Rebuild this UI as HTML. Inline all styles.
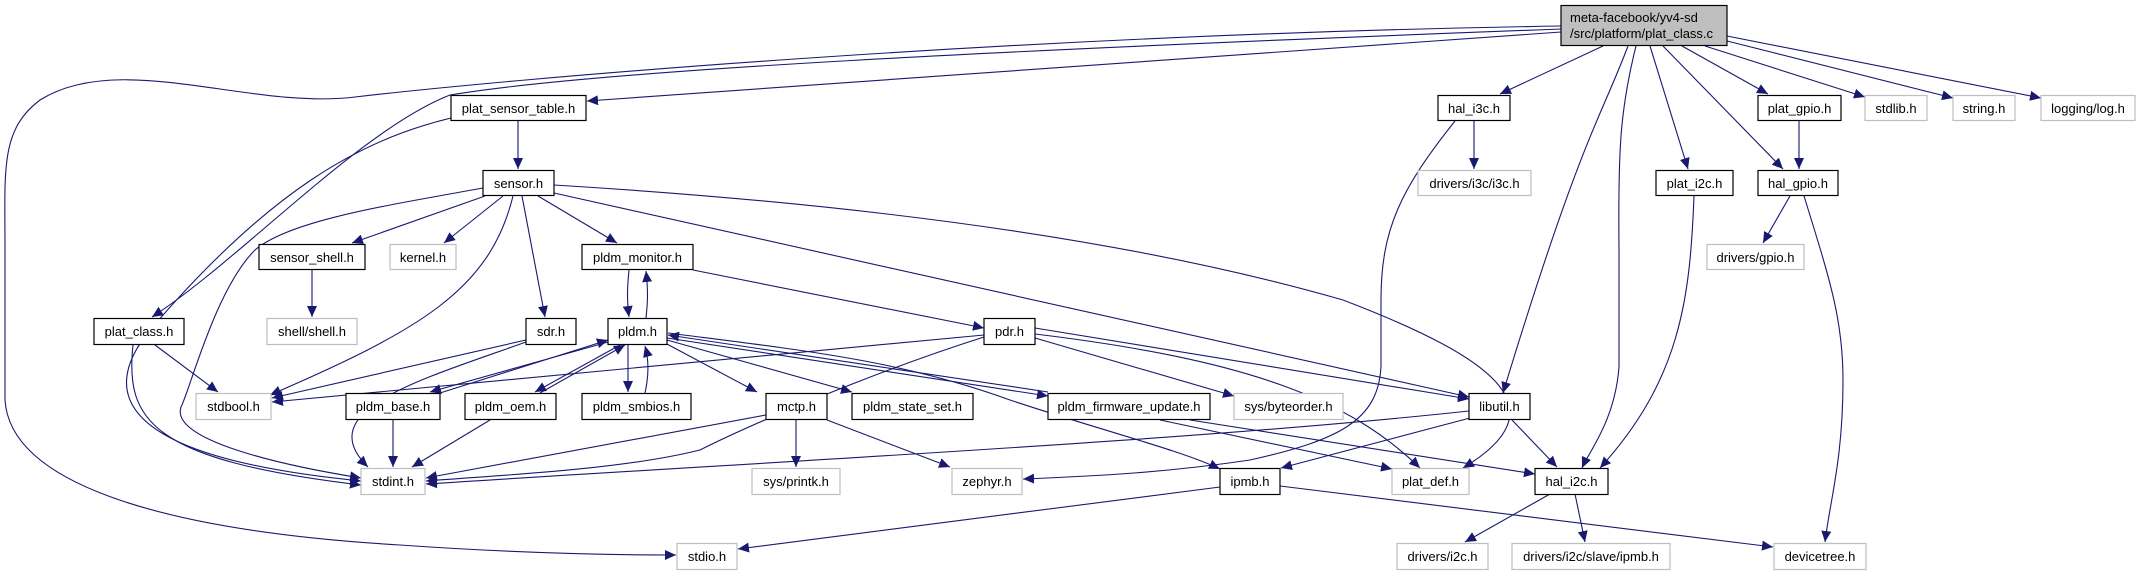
<!DOCTYPE html>
<html><head><meta charset="utf-8"><style>
html,body{margin:0;padding:0;background:#fff;}
svg{display:block;}
text{font-family:"Liberation Sans",sans-serif;font-size:13px;fill:#000;}
.e{fill:none;stroke:#191970;stroke-width:1.1;marker-end:url(#a);}
.n rect{fill:#fff;stroke:#000;stroke-width:1.2;}
.g rect{fill:#fff;stroke:#bfbfbf;stroke-width:1.2;}
</style></head><body>
<svg width="2145" height="575" viewBox="0 0 2145 575" xmlns="http://www.w3.org/2000/svg">
<defs><marker id="a" markerUnits="userSpaceOnUse" markerWidth="12" markerHeight="10" refX="11" refY="5" orient="auto"><path d="M0,0 L11,5 L0,10 z" fill="#191970"/></marker></defs>
<!-- edges -->
<path class="e" d="M1561,32 L587,101"/>
<path class="e" d="M1561,29 C1000,50 600,70 450,95 C360,130 240,260 152,317"/>
<path class="e" d="M1561,26 C1000,35 500,80 355,97 C250,110 120,50 40,100 C0,130 5,170 5,250 L5,400 C10,480 150,530 400,545 C500,552 600,555 676,555"/>
<path class="e" d="M1603,46 L1500,94"/>
<path class="e" d="M1628,46 C1600,120 1580,140 1503,393"/>
<path class="e" d="M1636,46 C1620,110 1618,150 1619,250 L1619,367 C1615,420 1590,450 1582,468"/>
<path class="e" d="M1650,46 L1688,169"/>
<path class="e" d="M1663,46 L1783,169"/>
<path class="e" d="M1682,46 L1768,94"/>
<path class="e" d="M1705,46 L1865,97"/>
<path class="e" d="M1727,41 L1953,98"/>
<path class="e" d="M1727,36 L2041,98"/>
<path class="e" d="M518,121 L518,169"/>
<path class="e" d="M451,118 C360,140 270,190 150,330 C60,440 250,470 361,481"/>
<path class="e" d="M485,196 L352,243"/>
<path class="e" d="M503,196 L444,243"/>
<path class="e" d="M538,196 L617,243"/>
<path class="e" d="M522,196 L545,317"/>
<path class="e" d="M513,196 C490,290 420,330 270,395"/>
<path class="e" d="M483,188 C390,205 290,220 255,250 C215,290 190,390 181,407 C170,440 280,465 361,478"/>
<path class="e" d="M554,193 L1469,397"/>
<path class="e" d="M554,185 C800,200 1100,230 1343,300 C1500,360 1560,410 1463,468"/>
<path class="e" d="M312,270 L312,317"/>
<path class="e" d="M629,270 C627,290 627,300 629,317"/>
<path class="e" d="M646,318 C648,300 648,290 646,271"/>
<path class="e" d="M693,270 L984,328"/>
<path class="e" d="M155,345 L218,392"/>
<path class="e" d="M133,345 C125,420 150,460 361,485"/>
<path class="e" d="M526,340 L272,398"/>
<path class="e" d="M526,342 C420,380 310,410 368,467"/>
<path class="e" d="M608,342 L430,392"/>
<path class="e" d="M440,393 L608,340"/>
<path class="e" d="M620,345 L535,392"/>
<path class="e" d="M540,393 L625,345"/>
<path class="e" d="M628,345 L628,392"/>
<path class="e" d="M645,393 C649,375 649,360 645,346"/>
<path class="e" d="M665,343 L757,392"/>
<path class="e" d="M667,340 L852,392"/>
<path class="e" d="M667,338 L1048,396"/>
<path class="e" d="M1048,392 L668,335"/>
<path class="e" d="M668,333 C800,350 900,360 1010,400 C1100,430 1180,450 1220,469"/>
<path class="e" d="M393,420 L393,467"/>
<path class="e" d="M490,420 L412,467"/>
<path class="e" d="M766,415 L426,478"/>
<path class="e" d="M796,420 L796,467"/>
<path class="e" d="M827,420 L950,467"/>
<path class="e" d="M984,335 L272,402"/>
<path class="e" d="M984,337 C880,370 760,420 700,450 C620,470 500,475 426,481"/>
<path class="e" d="M1035,338 L1234,396"/>
<path class="e" d="M1035,328 L1469,399"/>
<path class="e" d="M1035,334 C1250,360 1350,400 1420,468"/>
<path class="e" d="M1160,420 L1392,469"/>
<path class="e" d="M1190,420 L1535,474"/>
<path class="e" d="M1469,411 C1200,440 800,460 426,484"/>
<path class="e" d="M1470,418 L1281,468"/>
<path class="e" d="M1512,420 L1557,467"/>
<path class="e" d="M1474,121 L1474,169"/>
<path class="e" d="M1455,121 C1400,190 1381,230 1381,300 L1381,367 C1378,420 1340,440 1250,460 C1170,472 1100,476 1023,479"/>
<path class="e" d="M1694,196 C1690,300 1680,380 1600,468"/>
<path class="e" d="M1799,121 L1799,169"/>
<path class="e" d="M1790,196 L1763,243"/>
<path class="e" d="M1804,196 C1830,280 1843,320 1843,380 C1843,460 1830,500 1825,542"/>
<path class="e" d="M1550,494 L1465,542"/>
<path class="e" d="M1575,494 L1585,542"/>
<path class="e" d="M1220,487 L738,549"/>
<path class="e" d="M1280,486 L1773,547"/>
<!-- nodes -->
<g><rect x="1561" y="5.5" width="166" height="40" fill="#bfbfbf" stroke="#000" stroke-width="1.2"/><text x="1570" y="22">meta-facebook/yv4-sd</text><text x="1570" y="38">/src/platform/plat_class.c</text></g>
<g class="n"><rect x="451" y="95.5" width="135" height="25"/><text x="518.5" y="113" text-anchor="middle">plat_sensor_table.h</text></g>
<g class="n"><rect x="1438" y="95.5" width="72" height="25"/><text x="1474" y="113" text-anchor="middle">hal_i3c.h</text></g>
<g class="n"><rect x="1758" y="95.5" width="83" height="25"/><text x="1799.5" y="113" text-anchor="middle">plat_gpio.h</text></g>
<g class="g"><rect x="1865" y="95.5" width="62" height="25"/><text x="1896" y="113" text-anchor="middle">stdlib.h</text></g>
<g class="g"><rect x="1953" y="95.5" width="62" height="25"/><text x="1984" y="113" text-anchor="middle">string.h</text></g>
<g class="g"><rect x="2041" y="95.5" width="94" height="25"/><text x="2088" y="113" text-anchor="middle">logging/log.h</text></g>
<g class="n"><rect x="483" y="170.5" width="71" height="25"/><text x="518.5" y="188" text-anchor="middle">sensor.h</text></g>
<g class="g"><rect x="1418" y="170.5" width="113" height="25"/><text x="1474.5" y="188" text-anchor="middle">drivers/i3c/i3c.h</text></g>
<g class="n"><rect x="1656" y="170.5" width="77" height="25"/><text x="1694.5" y="188" text-anchor="middle">plat_i2c.h</text></g>
<g class="n"><rect x="1758" y="170.5" width="80" height="25"/><text x="1798" y="188" text-anchor="middle">hal_gpio.h</text></g>
<g class="n"><rect x="259" y="244.5" width="106" height="25"/><text x="312" y="262" text-anchor="middle">sensor_shell.h</text></g>
<g class="g"><rect x="390" y="244.5" width="66" height="25"/><text x="423" y="262" text-anchor="middle">kernel.h</text></g>
<g class="n"><rect x="582" y="244.5" width="111" height="25"/><text x="637.5" y="262" text-anchor="middle">pldm_monitor.h</text></g>
<g class="g"><rect x="1707" y="244.5" width="97" height="25"/><text x="1755.5" y="262" text-anchor="middle">drivers/gpio.h</text></g>
<g class="n"><rect x="94" y="318.5" width="90" height="26"/><text x="139" y="336" text-anchor="middle">plat_class.h</text></g>
<g class="g"><rect x="267" y="318.5" width="90" height="26"/><text x="312" y="336" text-anchor="middle">shell/shell.h</text></g>
<g class="n"><rect x="526" y="318.5" width="50" height="26"/><text x="551" y="336" text-anchor="middle">sdr.h</text></g>
<g class="n"><rect x="608" y="318.5" width="59" height="26"/><text x="637.5" y="336" text-anchor="middle">pldm.h</text></g>
<g class="n"><rect x="984" y="318.5" width="51" height="26"/><text x="1009.5" y="336" text-anchor="middle">pdr.h</text></g>
<g class="g"><rect x="196" y="393.5" width="75" height="26"/><text x="233.5" y="411" text-anchor="middle">stdbool.h</text></g>
<g class="n"><rect x="346" y="393.5" width="94" height="26"/><text x="393" y="411" text-anchor="middle">pldm_base.h</text></g>
<g class="n"><rect x="465" y="393.5" width="91" height="26"/><text x="510.5" y="411" text-anchor="middle">pldm_oem.h</text></g>
<g class="n"><rect x="582" y="393.5" width="109" height="26"/><text x="636.5" y="411" text-anchor="middle">pldm_smbios.h</text></g>
<g class="n"><rect x="766" y="393.5" width="61" height="26"/><text x="796.5" y="411" text-anchor="middle">mctp.h</text></g>
<g class="n"><rect x="852" y="393.5" width="121" height="26"/><text x="912.5" y="411" text-anchor="middle">pldm_state_set.h</text></g>
<g class="n"><rect x="1048" y="393.5" width="162" height="26"/><text x="1129" y="411" text-anchor="middle">pldm_firmware_update.h</text></g>
<g class="g"><rect x="1234" y="393.5" width="109" height="26"/><text x="1288.5" y="411" text-anchor="middle">sys/byteorder.h</text></g>
<g class="n"><rect x="1469" y="393.5" width="61" height="26"/><text x="1499.5" y="411" text-anchor="middle">libutil.h</text></g>
<g class="g"><rect x="361" y="468.5" width="64" height="26"/><text x="393" y="486" text-anchor="middle">stdint.h</text></g>
<g class="g"><rect x="752" y="468.5" width="88" height="26"/><text x="796" y="486" text-anchor="middle">sys/printk.h</text></g>
<g class="g"><rect x="952" y="468.5" width="70" height="26"/><text x="987" y="486" text-anchor="middle">zephyr.h</text></g>
<g class="n"><rect x="1220" y="468.5" width="60" height="26"/><text x="1250" y="486" text-anchor="middle">ipmb.h</text></g>
<g class="g"><rect x="1392" y="468.5" width="77" height="26"/><text x="1430.5" y="486" text-anchor="middle">plat_def.h</text></g>
<g class="n"><rect x="1535" y="468.5" width="73" height="26"/><text x="1571.5" y="486" text-anchor="middle">hal_i2c.h</text></g>
<g class="g"><rect x="677" y="543.5" width="60" height="26"/><text x="707" y="561" text-anchor="middle">stdio.h</text></g>
<g class="g"><rect x="1397" y="543.5" width="91" height="26"/><text x="1442.5" y="561" text-anchor="middle">drivers/i2c.h</text></g>
<g class="g"><rect x="1512" y="543.5" width="158" height="26"/><text x="1591" y="561" text-anchor="middle">drivers/i2c/slave/ipmb.h</text></g>
<g class="g"><rect x="1774" y="543.5" width="92" height="26"/><text x="1820" y="561" text-anchor="middle">devicetree.h</text></g>
</svg>
</body></html>
